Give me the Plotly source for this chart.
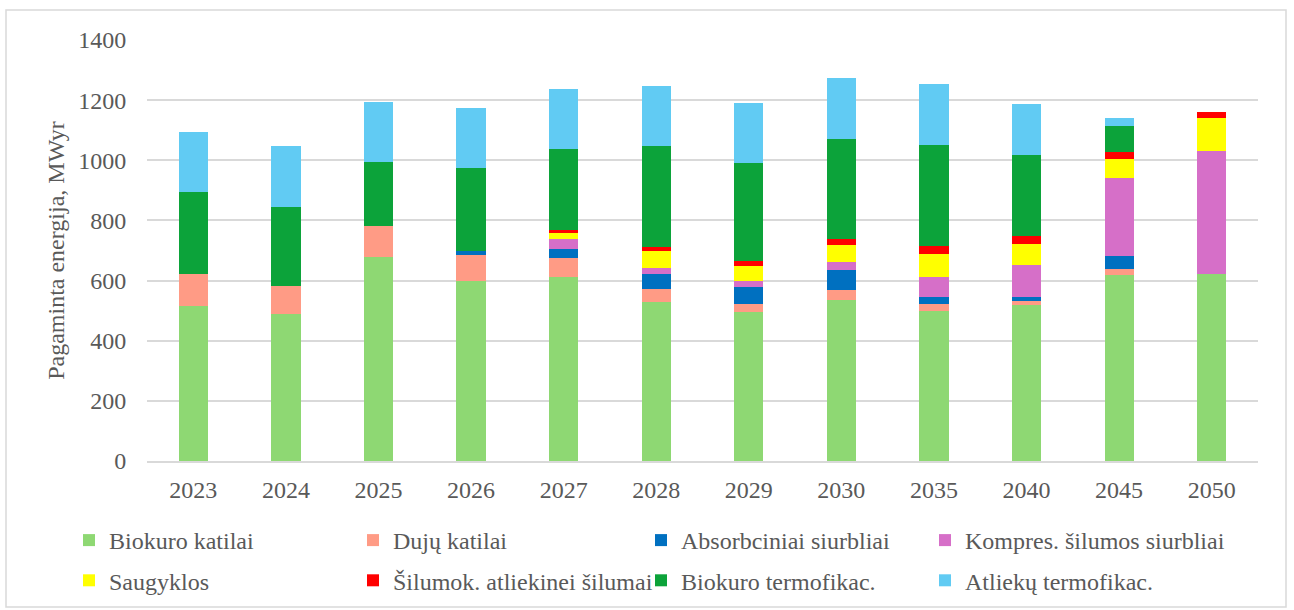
import plotly.graph_objects as go

years = ["2023", "2024", "2025", "2026", "2027", "2028", "2029", "2030", "2035", "2040", "2045", "2050"]

biokuro_katilai = [517, 488, 678, 599, 611, 530, 494, 537, 498, 518, 620, 623]
duju_katilai = [106, 94, 104, 85, 63, 43, 29, 32, 25, 14, 17, 0]
absorbciniai = [0, 0, 0, 16, 32, 50, 57, 66, 24, 15, 45, 0]
kompres = [0, 0, 0, 0, 33, 19, 20, 27, 65, 106, 260, 409]
saugyklos = [0, 0, 0, 0, 20, 58, 50, 56, 78, 70, 61, 107]
silumok = [0, 0, 0, 0, 10, 11, 16, 21, 24, 25, 23, 23]
biokuro_termofikac = [270, 263, 213, 276, 267, 336, 326, 333, 338, 271, 89, 0]
atlieku_termofikac = [200, 202, 198, 199, 201, 200, 200, 200, 201, 168, 26, 0]

series_names = [
    "Biokuro katilai", "Dujų katilai", "Absorbciniai siurbliai", "Kompres. šilumos siurbliai",
    "Saugyklos", "Šilumok. atliekinei šilumai", "Biokuro termofikac.", "Atliekų termofikac.",
]
series_values = [biokuro_katilai, duju_katilai, absorbciniai, kompres,
                 saugyklos, silumok, biokuro_termofikac, atlieku_termofikac]
series_colors = ["#8ED873", "#FF9B85", "#0070C0", "#D66FC8",
                 "#FFFF00", "#FF0000", "#0CA33A", "#61CBF3"]

y_ticks = [0, 200, 400, 600, 800, 1000, 1200, 1400]

FONT = "Liberation Serif"
GRAY = "#595959"
FS = 24

W, H = 1294, 610
L, R, T, B = 147, 36, 40, 149
pw, ph = W - L - R, H - T - B

legend_ids = ["legend", "legend2", "legend3", "legend4"]

fig = go.Figure()
for i, (name, vals, col) in enumerate(zip(series_names, series_values, series_colors)):
    fig.add_trace(go.Bar(name=name, x=years, y=vals, marker=dict(color=col, line=dict(width=0)),
                         legend=legend_ids[i % 4], legendgroup=f"g{i}"))

legend_common = dict(orientation="v", xref="paper", yref="paper", xanchor="left", yanchor="top",
                     itemwidth=30, bgcolor="rgba(0,0,0,0)", traceorder="grouped",
                     tracegroupgap=6, font=dict(family=FONT, size=FS, color=GRAY))
col_left = [69, 353, 641, 925]
legends = {}
for lid, cx in zip(legend_ids, col_left):
    legends[lid] = dict(legend_common, x=(cx - L) / pw, y=(H - B - 518) / ph)

fig.update_layout(
    width=W, height=H,
    barmode="stack", bargap=0.684,
    paper_bgcolor="white", plot_bgcolor="white",
    margin=dict(l=L, r=R, t=T, b=B, autoexpand=False),
    font=dict(family=FONT, size=FS, color=GRAY),
    xaxis=dict(type="category", showgrid=False, showline=True, linecolor="#d9d9d9", linewidth=1.5,
               ticks="outside", ticklen=6, tickcolor="rgba(0,0,0,0)",
               tickfont=dict(family=FONT, size=FS, color=GRAY)),
    yaxis=dict(range=[0, 1400], tickvals=y_ticks, showgrid=True, gridcolor="#d9d9d9", gridwidth=1.5,
               zeroline=False, showline=False,
               ticks="outside", ticklen=15, tickcolor="rgba(0,0,0,0)",
               tickfont=dict(family=FONT, size=FS, color=GRAY),
               title=dict(text="Pagaminta energija, MWyr", font=dict(family=FONT, size=FS, color=GRAY),
                          standoff=6)),
    showlegend=True,
    **legends,
)

# chart outer frame
fig.add_shape(type="rect", xref="paper", yref="paper",
              x0=(6 - L) / pw, x1=(1286 - L) / pw,
              y0=(H - B - 607) / ph, y1=(H - B - 10) / ph,
              line=dict(color="#d9d9d9", width=1.5), fillcolor="rgba(0,0,0,0)", layer="below")

fig.write_html("out.html", config={"displayModeBar": False},
               post_script="document.body.style.margin='0';")
